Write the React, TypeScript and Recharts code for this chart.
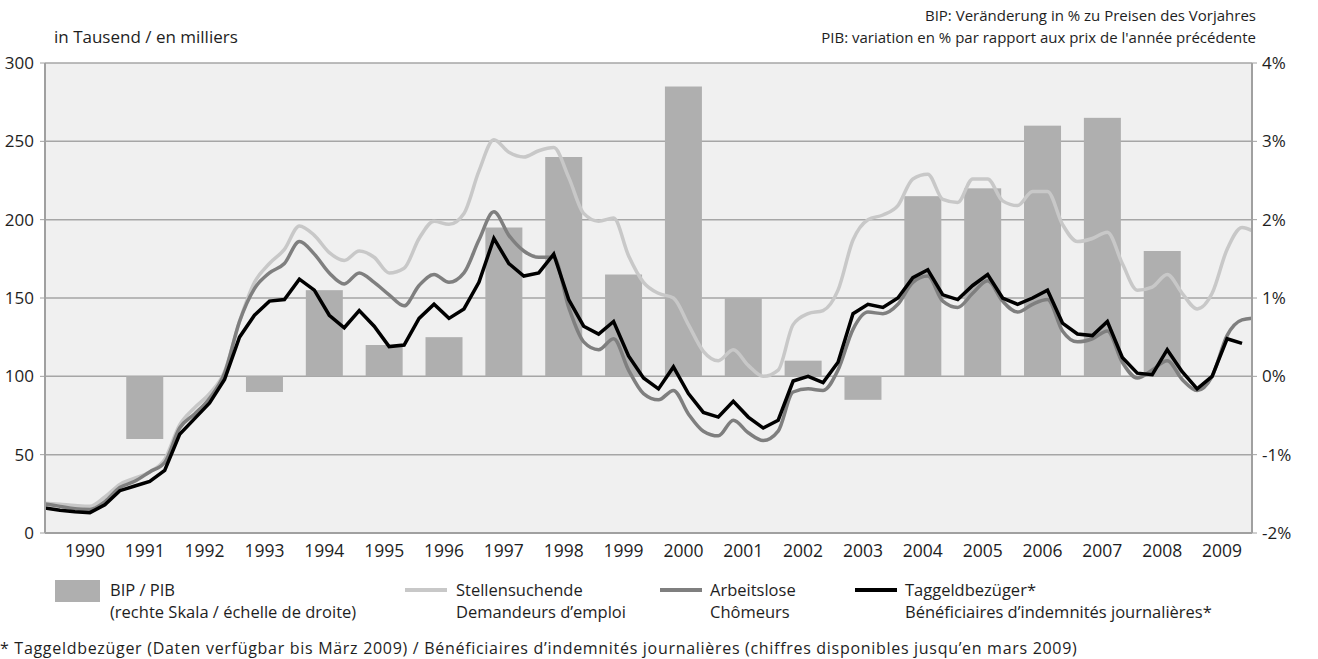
import React from "react";
import { Bar, CartesianGrid, ComposedChart, Line, XAxis, YAxis } from "recharts";

const lineMonths = [...Array.from({ length: 81 }, (_, i) => i * 3), 242];

// Stellensuchende (in Tausend)
const stellensuchende = [
  19, 18.3, 17.5, 17, 23, 31, 35, 39, 47, 69,
  80, 89, 103, 135, 160, 172, 181, 196, 190, 179,
  174, 180, 176, 166, 169, 188, 199, 197, 204, 231,
  251, 243, 240, 244, 246, 227, 204, 199, 201, 177,
  160, 153, 150, 133, 116, 110, 117, 107, 100, 104,
  133, 140, 142, 155, 187, 200, 203, 209, 226, 229,
  213, 211, 226, 226, 212, 209, 218, 218, 197, 186,
  188, 192, 172, 155, 157, 165, 153, 143, 153, 181,
  195, 193,
];

// Arbeitslose (in Tausend)
const arbeitslose = [
  18.5, 17, 15.5, 15, 20, 29, 33, 39, 45, 67,
  76, 86, 102, 135, 156, 166, 172, 186, 178, 166,
  159, 166, 160, 152, 145, 158, 165, 160, 166, 187,
  205, 190, 180, 176, 176, 144, 122, 117, 124, 104,
  89, 85, 91, 76, 65, 62, 72, 64, 59, 65,
  90, 92, 91, 104, 130, 141, 140, 146, 160, 164,
  148, 144, 153, 161, 148, 141, 146, 149, 129, 122,
  124, 129, 109, 99, 104, 110, 98, 91, 100, 126,
  136, 137,
];

// Taggeldbezüger (in Tausend), Daten bis März 2009
const taggeld = [
  16, 14.5, 13.5, 13, 18, 27, 30, 33, 40, 63,
  73, 83, 98, 125, 139, 148, 149, 162, 155, 139,
  131, 142, 132, 119, 120, 137, 146, 137, 143, 160,
  188, 172, 164, 166, 178, 149, 132, 127, 135, 113,
  99, 92, 106, 89, 77, 74, 84, 74, 67, 72,
  97, 100, 96, 109, 140, 146, 144, 150, 163, 168,
  152, 149, 158, 165, 150, 146, 150, 155, 134, 127,
  126, 135, 112, 102, 101, 117, 103, 92, 100, 124,
  121,
];

// BIP: Veränderung in %
const years = [
  1990, 1991, 1992, 1993, 1994, 1995, 1996, 1997, 1998, 1999,
  2000, 2001, 2002, 2003, 2004, 2005, 2006, 2007, 2008, 2009,
];
const bip = [
  null, -0.8, null, -0.2, 1.1, 0.4, 0.5, 1.9, 2.8, 1.3,
  3.7, 1.0, 0.2, -0.3, 2.3, 2.4, 3.2, 3.3, 1.6, null,
];

const leftTicks = [0, 50, 100, 150, 200, 250, 300];
const rightTicks = [-2, -1, 0, 1, 2, 3, 4];

const yearMonth = (y: number) => 8 + 12 * (y - 1990);
const yearTicks = years.map(yearMonth);

type Row = { m: number; stellen?: number; arbeit?: number; taggeld?: number; bip?: number | null };

const byMonth = new Map<number, Row>();
const rowAt = (m: number) => {
  if (!byMonth.has(m)) byMonth.set(m, { m });
  return byMonth.get(m)!;
};
lineMonths.forEach((m, i) => {
  if (stellensuchende[i] != null) rowAt(m).stellen = stellensuchende[i];
  if (arbeitslose[i] != null) rowAt(m).arbeit = arbeitslose[i];
  if (taggeld[i] != null) rowAt(m).taggeld = taggeld[i];
});
years.forEach((y, i) => {
  if (bip[i] != null) rowAt(yearMonth(y)).bip = bip[i];
});
const data = [...byMonth.values()].sort((a, b) => a.m - b.m);

const FONT = '"Open Sans", "Noto Sans", sans-serif';
const TEXT = "#1e1e1e";
const AXIS = "#a0a0a0";
const BAR_W = 37;

function BipBar(props: any) {
  const { x, y, width, height } = props;
  if (x == null || height == null || !width) return null;
  const cx = x + width / 2;
  return (
    <rect
      x={cx - BAR_W / 2}
      y={Math.min(y, y + height)}
      width={BAR_W}
      height={Math.abs(height)}
      fill="#afafaf"
    />
  );
}

const txt: React.CSSProperties = {
  position: "absolute",
  fontFamily: FONT,
  fontSize: 16.5,
  color: TEXT,
  lineHeight: "22px",
  whiteSpace: "nowrap",
};

function LegendLine({ left, color }: { left: number; color: string }) {
  return <div style={{ position: "absolute", left, top: 588, width: 42, height: 4, background: color }} />;
}

const tickStyle = { fill: TEXT, fontSize: 17, fontFamily: FONT };

export default function App() {
  return (
    <div style={{ position: "absolute", left: 0, top: 0, width: 1318, height: 659, background: "#fff" }}>
      <div style={{ ...txt, left: 54, top: 26, fontSize: 17 }}>in Tausend / en milliers</div>
      <div style={{ ...txt, right: 62, top: 4, fontSize: 15, textAlign: "right" }}>
        BIP: Veränderung in % zu Preisen des Vorjahres
        <br />
        PIB: variation en % par rapport aux prix de l'année précédente
      </div>

      <ComposedChart
        width={1318}
        height={659}
        data={data}
        margin={{ top: 63, right: 0, bottom: 96, left: 0 }}
        style={{ position: "absolute", left: 0, top: 0 }}
      >
        <CartesianGrid
          yAxisId="left"
          vertical={false}
          stroke="#a6a6a6"
          strokeWidth={1.5}
          fill="#f0f0f0"
        />
        <XAxis
          dataKey="m"
          type="number"
          domain={[0, 242]}
          ticks={yearTicks}
          tickFormatter={(m: number) => String(1990 + (m - 8) / 12)}
          interval={0}
          height={30}
          tickSize={0}
          tickMargin={12}
          tick={{ ...tickStyle, fontSize: 17.5 }}
          axisLine={{ stroke: AXIS, strokeWidth: 2 }}
          tickLine={false}
        />
        <YAxis
          yAxisId="left"
          domain={[0, 300]}
          ticks={leftTicks}
          width={45}
          tickSize={5}
          tickMargin={6}
          tick={tickStyle}
          axisLine={{ stroke: AXIS, strokeWidth: 2 }}
          tickLine={{ stroke: AXIS }}
          interval={0}
        />
        <YAxis
          yAxisId="right"
          orientation="right"
          domain={[-2, 4]}
          ticks={rightTicks}
          width={66}
          tickSize={5}
          tickMargin={5}
          tickFormatter={(v: number) => `${v}%`}
          tick={tickStyle}
          axisLine={{ stroke: AXIS, strokeWidth: 2 }}
          tickLine={{ stroke: AXIS }}
          interval={0}
        />
        <Bar yAxisId="right" dataKey="bip" shape={BipBar} isAnimationActive={false} />
        <Line
          yAxisId="left"
          dataKey="stellen"
          type="monotone"
          stroke="#c8c8c8"
          strokeWidth={3.5}
          dot={false}
          connectNulls
          isAnimationActive={false}
        />
        <Line
          yAxisId="left"
          dataKey="arbeit"
          type="monotone"
          stroke="#7f7f7f"
          strokeWidth={3.5}
          dot={false}
          connectNulls
          isAnimationActive={false}
        />
        <Line
          yAxisId="left"
          dataKey="taggeld"
          type="linear"
          stroke="#000"
          strokeWidth={3.5}
          dot={false}
          connectNulls
          isAnimationActive={false}
        />
      </ComposedChart>

      {/* Legende */}
      <div style={{ position: "absolute", left: 55, top: 580, width: 45, height: 22, background: "#afafaf" }} />
      <div style={{ ...txt, left: 110, top: 579 }}>
        BIP / PIB
        <br />
        (rechte Skala / échelle de droite)
      </div>
      <LegendLine left={405} color="#c8c8c8" />
      <div style={{ ...txt, left: 456, top: 579 }}>
        Stellensuchende
        <br />
        Demandeurs d’emploi
      </div>
      <LegendLine left={660} color="#7f7f7f" />
      <div style={{ ...txt, left: 710, top: 579 }}>
        Arbeitslose
        <br />
        Chômeurs
      </div>
      <LegendLine left={855} color="#000" />
      <div style={{ ...txt, left: 905, top: 579 }}>
        Taggeldbezüger*
        <br />
        Bénéficiaires d’indemnités journalières*
      </div>

      <div style={{ ...txt, left: 0, top: 637, fontSize: 16, letterSpacing: 0.7 }}>
        * Taggeldbezüger (Daten verfügbar bis März 2009) / Bénéficiaires d’indemnités journalières (chiffres
        disponibles jusqu’en mars 2009)
      </div>
    </div>
  );
}
